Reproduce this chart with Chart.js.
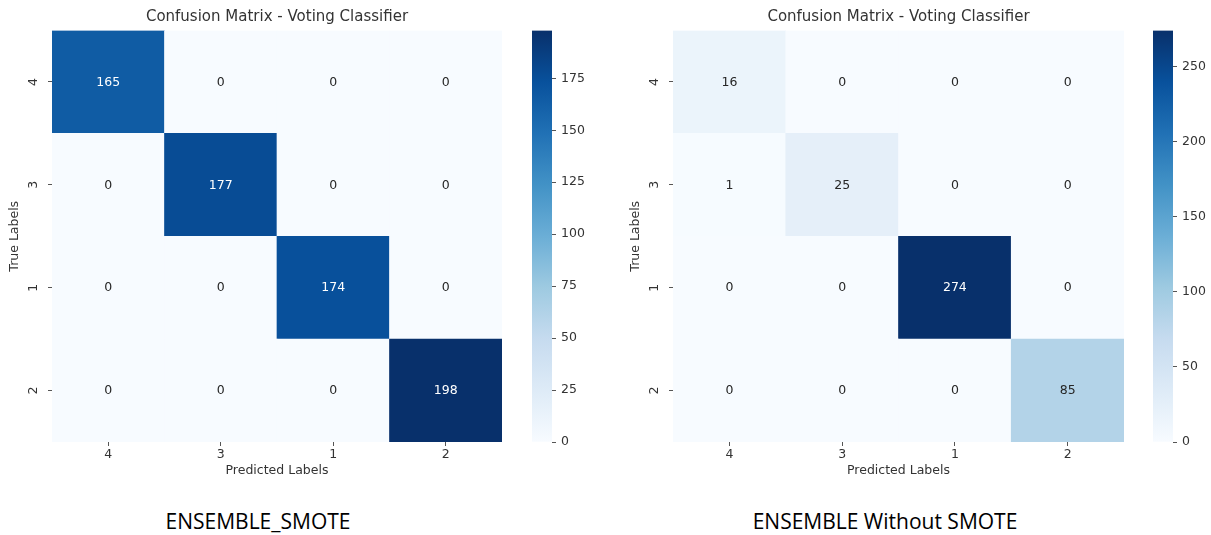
<!DOCTYPE html>
<html>
<head>
<meta charset="utf-8">
<title>Confusion Matrix - Voting Classifier</title>
<script src="https://cdn.jsdelivr.net/npm/chart.js@4/dist/chart.umd.min.js"></script>
<style>
  html, body { margin: 0; padding: 0; background: #ffffff; }
  body { width: 1211px; height: 535px; position: relative; overflow: hidden; }
  canvas { position: absolute; top: 0; }
  .caption {
    position: absolute; top: 505px; width: 400px; height: 32px; line-height: 32px;
    text-align: center; font-family: 'Open Sans', sans-serif; font-size: 21px; color: #000;
    white-space: nowrap;
  }
</style>
</head>
<body>
<canvas id="heatSmote" width="520" height="490" style="left:0px"></canvas>
<canvas id="barSmote" width="70" height="490" style="left:532px"></canvas>
<canvas id="heatPlain" width="521" height="490" style="left:621px"></canvas>
<canvas id="barPlain" width="58" height="490" style="left:1153px"></canvas>
<div class="caption" id="capSmote" style="left:58px"></div>
<div class="caption" id="capPlain" style="left:685px"></div>

<script>
// Class order used on both axes of the confusion matrices
const predictedLabels = ['4', '3', '1', '2'];
const trueLabels = ['4', '3', '1', '2'];

// Rows = true class, columns = predicted class
const smoteMatrix = [
  [165, 0, 0, 0],
  [0, 177, 0, 0],
  [0, 0, 174, 0],
  [0, 0, 0, 198]
];
const plainMatrix = [
  [16, 0, 0, 0],
  [1, 25, 0, 0],
  [0, 0, 274, 0],
  [0, 0, 0, 85]
];

// Colour bar tick values
const smoteBarTicks = [0, 25, 50, 75, 100, 125, 150, 175];
const plainBarTicks = [0, 50, 100, 150, 200, 250];

const panelTitle = 'Confusion Matrix - Voting Classifier';
const xTitle = 'Predicted Labels';
const yTitle = 'True Labels';
const captions = ['ENSEMBLE_SMOTE', 'ENSEMBLE Without SMOTE'];

// ---- matplotlib "Blues" colour map ----
const bluesStops = ['#f7fbff', '#deebf7', '#c6dbef', '#9ecae1', '#6baed6',
                    '#4292c6', '#2171b5', '#08519c', '#08306b'];
function hexToRgb(h) {
  return [parseInt(h.slice(1, 3), 16), parseInt(h.slice(3, 5), 16), parseInt(h.slice(5, 7), 16)];
}
function bluesRgb(t) {
  t = Math.max(0, Math.min(1, t));
  const pos = t * (bluesStops.length - 1);
  const i = Math.min(bluesStops.length - 2, Math.floor(pos));
  const f = pos - i;
  const a = hexToRgb(bluesStops[i]), b = hexToRgb(bluesStops[i + 1]);
  return a.map((v, k) => Math.round(v + (b[k] - v) * f));
}
function rgbStr(c) { return 'rgb(' + c.join(',') + ')'; }
function luminance(c) {
  const lin = c.map(v => {
    v /= 255;
    return v <= 0.03928 ? v / 12.92 : Math.pow((v + 0.055) / 1.055, 2.4);
  });
  return 0.2126 * lin[0] + 0.7152 * lin[1] + 0.0722 * lin[2];
}

const FONT = 'DejaVu Sans';
const TEXT = '#333333';
const TICK = '#555555';

// Writes each cell's count at the centre of its bar element
const cellLabels = {
  id: 'cellLabels',
  afterDatasetsDraw(chart) {
    const ctx = chart.ctx;
    ctx.save();
    ctx.font = '12.5px "' + FONT + '"';
    ctx.textAlign = 'center';
    ctx.textBaseline = 'middle';
    chart.data.datasets.forEach((ds, di) => {
      const meta = chart.getDatasetMeta(di);
      meta.data.forEach((bar, i) => {
        ctx.fillStyle = ds.textColors[i];
        ctx.fillText(String(ds.cellValues[i]), bar.x, (bar.y + bar.base) / 2 + 0.5);
      });
    });
    ctx.restore();
  }
};

function heatmap(id, matrix) {
  const n = trueLabels.length;
  const flat = matrix.flat();
  const vmin = Math.min(...flat), vmax = Math.max(...flat);
  const datasets = [];
  // stacked rows, bottom row first
  for (let k = 0; k < n; k++) {
    const row = n - 1 - k;
    const colours = matrix[row].map(v => bluesRgb((v - vmin) / (vmax - vmin)));
    datasets.push({
      label: trueLabels[row],
      xAxisID: 'x',
      yAxisID: 'y',
      data: matrix[row].map(() => 1),
      cellValues: matrix[row],
      backgroundColor: colours.map(rgbStr),
      textColors: colours.map(c => luminance(c) > 0.408 ? '#262626' : '#ffffff'),
      borderWidth: 0,
      barPercentage: 1,
      categoryPercentage: 1
    });
  }
  return new Chart(document.getElementById(id), {
    type: 'bar',
    data: { labels: predictedLabels, datasets },
    plugins: [cellLabels],
    options: {
      responsive: false,
      animation: false,
      layout: { padding: { left: 0, right: 18, top: 0, bottom: 0 } },
      plugins: {
        legend: { display: false },
        tooltip: { enabled: false },
        title: { display: false }
      },
      scales: {
        x: {
          type: 'category', position: 'bottom', stacked: true, offset: true,
          grid: { offset: false, drawOnChartArea: false, drawTicks: true, tickLength: 4, color: TICK },
          border: { display: false },
          ticks: { color: TEXT, font: { family: FONT, size: 12.5 }, padding: 1.5, maxRotation: 0 },
          title: { display: true, text: xTitle, color: TEXT, font: { family: FONT, size: 12.5 },
                   padding: { top: 0, bottom: 11.5 } },
          afterFit(s) { s.height = 48; }
        },
        y: {
          type: 'linear', stacked: true, min: 0, max: n,
          afterBuildTicks(s) { s.ticks = trueLabels.map((_, k) => ({ value: k + 0.5 })); },
          grid: { drawOnChartArea: false, drawTicks: true, tickLength: 4, color: TICK },
          border: { display: false },
          ticks: {
            color: TEXT, font: { family: FONT, size: 12.5 }, padding: 10,
            minRotation: 90, maxRotation: 90, crossAlign: 'center',
            callback: v => trueLabels[n - 1 - Math.floor(v)]
          },
          title: { display: true, text: yTitle, color: TEXT, font: { family: FONT, size: 12.5 },
                   padding: { top: 7.5, bottom: 0 } },
          afterFit(s) { s.width = 52; }
        },
        // top axis only carries the panel title, centred over the cells
        xTop: {
          type: 'category', position: 'top', labels: predictedLabels, offset: true,
          grid: { display: false },
          border: { display: false },
          ticks: { display: false },
          title: { display: true, text: panelTitle, color: TEXT,
                   font: { family: FONT, size: 15, weight: 'normal' },
                   padding: { top: 8, bottom: 0 } },
          afterFit(s) { s.height = 30.5; }
        }
      }
    }
  });
}

function colourbar(id, matrix, tickValues, axisWidth) {
  const flat = matrix.flat();
  const vmin = Math.min(...flat), vmax = Math.max(...flat);
  return new Chart(document.getElementById(id), {
    type: 'bar',
    data: {
      labels: [''],
      datasets: [{
        data: [[vmin, vmax]],
        borderWidth: 0,
        barPercentage: 1,
        categoryPercentage: 1,
        backgroundColor(c) {
          const chart = c.chart;
          const ys = chart.scales.y;
          if (!chart.chartArea || !ys) return bluesStops[4];
          const g = chart.ctx.createLinearGradient(0, ys.getPixelForValue(vmin), 0, ys.getPixelForValue(vmax));
          bluesStops.forEach((s, i) => g.addColorStop(i / (bluesStops.length - 1), s));
          return g;
        }
      }]
    },
    options: {
      responsive: false,
      animation: false,
      layout: { padding: { left: 0, right: 0, top: 30.5, bottom: 48 } },
      plugins: { legend: { display: false }, tooltip: { enabled: false } },
      scales: {
        x: { display: false, offset: true },
        y: {
          type: 'linear', position: 'right', min: vmin, max: vmax,
          afterBuildTicks(s) { s.ticks = tickValues.map(v => ({ value: v })); },
          grid: { drawOnChartArea: false, drawTicks: true, tickLength: 4, color: TICK },
          border: { display: false },
          ticks: { color: TEXT, font: { family: FONT, size: 12.5 }, padding: 5 },
          afterFit(s) { s.width = axisWidth; }
        }
      }
    }
  });
}

heatmap('heatSmote', smoteMatrix);
colourbar('barSmote', smoteMatrix, smoteBarTicks, 50);
heatmap('heatPlain', plainMatrix);
colourbar('barPlain', plainMatrix, plainBarTicks, 38);

document.getElementById('capSmote').textContent = captions[0];
document.getElementById('capPlain').textContent = captions[1];
</script>
</body>
</html>
